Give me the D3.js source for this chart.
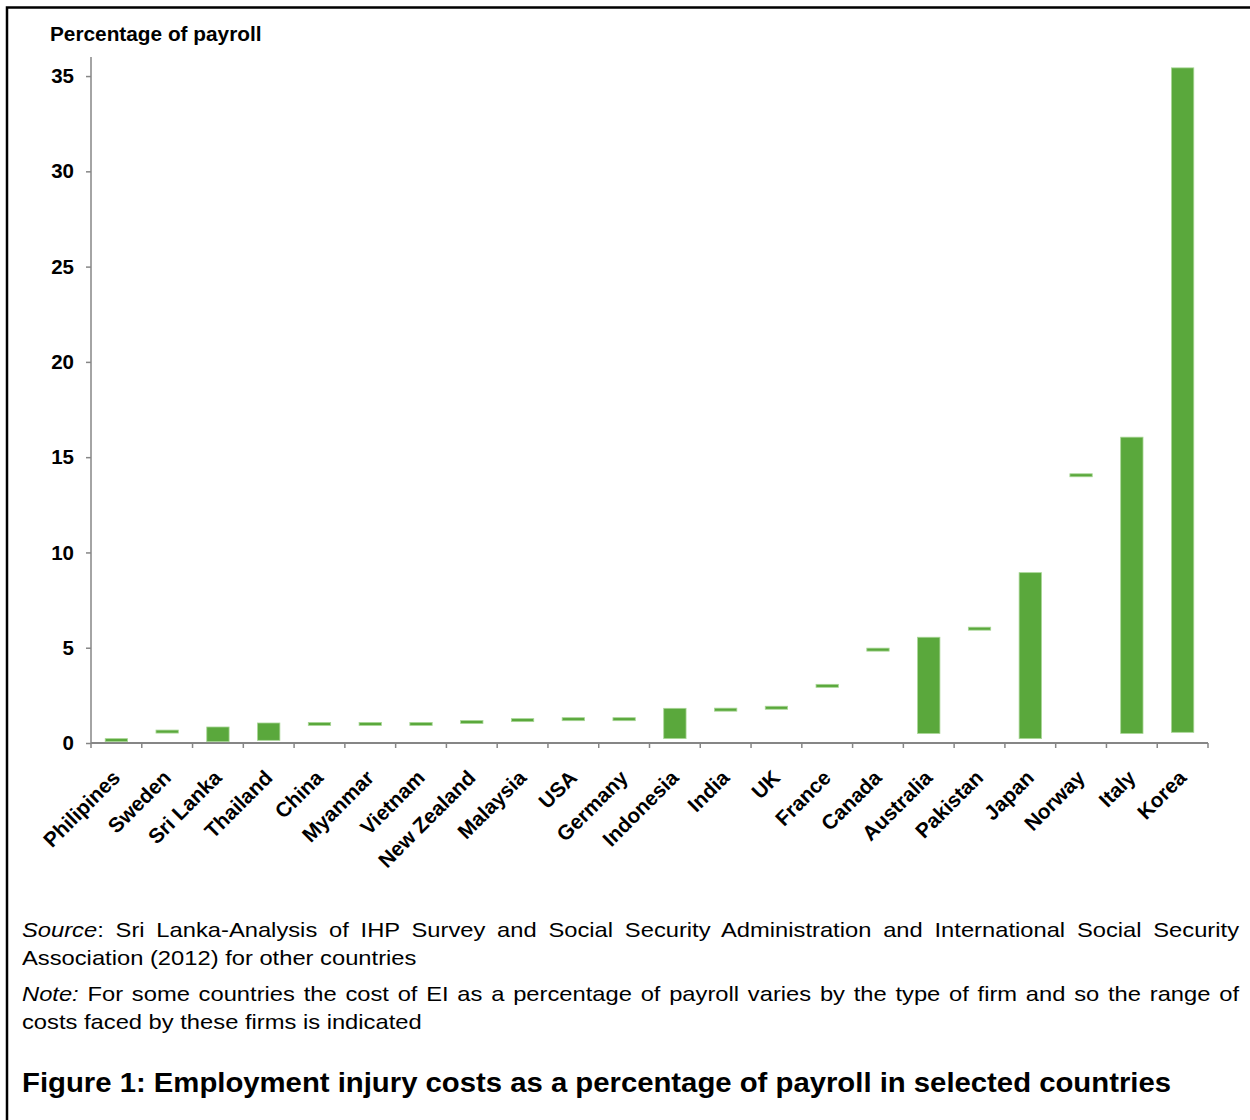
<!DOCTYPE html>
<html>
<head>
<meta charset="utf-8">
<script src="https://cdn.jsdelivr.net/npm/d3@7"></script>
<style>
    body { margin: 0; background: #fff; }
    .wrap { position: relative; width: 1250px; height: 1120px; overflow: hidden; }
    svg { position: absolute; left: 0; top: 0; }
    .note { position: absolute; left: 22px; width: 1077px; font-family: "Liberation Sans", Arial, sans-serif;
            font-size: 21px; line-height: 28px; color: #000; text-align: justify;
            transform: scaleX(1.13); transform-origin: 0 0; }
</style>
</head>
<body>
<div class="wrap" id="chart"></div>
<script>
'use strict';

var countries = ['Philipines', 'Sweden', 'Sri Lanka', 'Thailand', 'China', 'Myanmar', 'Vietnam',
    'New Zealand', 'Malaysia', 'USA', 'Germany', 'Indonesia', 'India', 'UK', 'France', 'Canada',
    'Australia', 'Pakistan', 'Japan', 'Norway', 'Italy', 'Korea'];

// lowest and highest cost per country (same value where there is no range)
var lowCost = [0.15, 0.6, 0.07, 0.14, 1.0, 1.0, 1.0, 1.1, 1.2, 1.25, 1.25, 0.23, 1.75, 1.85,
    3.0, 4.9, 0.5, 6.0, 0.23, 14.05, 0.5, 0.56];
var highCost = [0.15, 0.6, 0.84, 1.05, 1.0, 1.0, 1.0, 1.1, 1.2, 1.25, 1.25, 1.82, 1.75, 1.85,
    3.0, 4.9, 5.55, 6.0, 8.94, 14.05, 16.05, 35.43];

var yTicks = [0, 5, 10, 15, 20, 25, 30, 35];

var data = countries.map(function (c, i) {
    return { name: c, low: lowCost[i], high: highCost[i] };
});

var font = '"Liberation Sans", Arial, sans-serif';
var axisColor = '#868686';

var wrap = d3.select('#chart');
var svg = wrap.append('svg')
    .attr('width', 1250)
    .attr('height', 1120);

// frame (left and top edge only)
svg.append('path')
    .attr('d', 'M7,1120 L7,7.5 L1250,7.5')
    .attr('fill', 'none')
    .attr('stroke', '#000')
    .attr('stroke-width', 2.5);

var x = d3.scaleBand()
    .domain(countries)
    .range([91, 1208])
    .padding(0);

var y = d3.scaleLinear()
    .domain([0, 36])
    .range([743, 57]);

// y axis
var yAxis = svg.append('g')
    .attr('transform', 'translate(91,0)')
    .call(d3.axisLeft(y).tickValues(yTicks).tickSize(5).tickPadding(12));

yAxis.select('.domain')
    .attr('d', 'M0,' + y(36) + 'V' + y(0))
    .attr('stroke', axisColor)
    .attr('stroke-width', 1.5);
yAxis.selectAll('.tick line').attr('stroke', axisColor).attr('stroke-width', 1.5);
yAxis.selectAll('.tick text')
    .attr('font-family', font)
    .attr('font-size', 20.5)
    .attr('font-weight', 'bold')
    .attr('fill', '#000');

// x axis line + ticks at category boundaries
var xg = svg.append('g');
xg.append('line')
    .attr('x1', x.range()[0]).attr('x2', x.range()[1])
    .attr('y1', y(0)).attr('y2', y(0))
    .attr('stroke', axisColor)
    .attr('stroke-width', 2);

var bounds = countries.map(function (c) { return x(c); }).concat([x.range()[1]]);
xg.selectAll('.xtick')
    .data(bounds)
    .enter()
    .append('line')
    .attr('class', 'xtick')
    .attr('x1', function (d) { return d; })
    .attr('x2', function (d) { return d; })
    .attr('y1', y(0))
    .attr('y2', y(0) + 5)
    .attr('stroke', axisColor)
    .attr('stroke-width', 1.5);

xg.selectAll('.xlabel')
    .data(countries)
    .enter()
    .append('text')
    .attr('class', 'xlabel')
    .attr('transform', function (d) {
        return 'translate(' + (x(d) + x.bandwidth() / 2 + 5) + ',' + (y(0) + 36) + ') rotate(-45)';
    })
    .attr('text-anchor', 'end')
    .attr('font-family', font)
    .attr('font-size', 20.8)
    .attr('font-weight', 'bold')
    .text(function (d) { return d; });

// range bars
var barW = x.bandwidth() * 0.44;
svg.append('g')
    .selectAll('rect')
    .data(data)
    .enter()
    .append('rect')
    .attr('x', function (d) { return x(d.name) + (x.bandwidth() - barW) / 2; })
    .attr('width', barW)
    .attr('y', function (d) {
        return d.high > d.low ? y(d.high) : y(d.high) - 1.5;
    })
    .attr('height', function (d) {
        return d.high > d.low ? y(d.low) - y(d.high) : 3;
    })
    .attr('fill', '#5aa83c')
    .attr('stroke', '#a9d696')
    .attr('stroke-width', 0.8);

// axis title
svg.append('text')
    .attr('x', 50)
    .attr('y', 41)
    .attr('font-family', font)
    .attr('font-size', 20.8)
    .attr('font-weight', 'bold')
    .text('Percentage of payroll');

// source and note
wrap.append('div')
    .attr('class', 'note')
    .style('top', '916px')
    .html('<i>Source</i>: Sri Lanka-Analysis of IHP Survey and Social Security Administration and International Social Security Association (2012) for other countries');

wrap.append('div')
    .attr('class', 'note')
    .style('top', '980px')
    .html('<i>Note:</i> For some countries the cost of EI as a percentage of payroll varies by the type of firm and so the range of costs faced by these firms is indicated');

svg.append('text')
    .attr('x', 22)
    .attr('y', 1092)
    .attr('font-family', font)
    .attr('font-size', 27.5)
    .attr('font-weight', 'bold')
    .attr('textLength', 1149)
    .attr('lengthAdjust', 'spacingAndGlyphs')
    .text('Figure 1: Employment injury costs as a percentage of payroll in selected countries');
</script>
</body>
</html>
